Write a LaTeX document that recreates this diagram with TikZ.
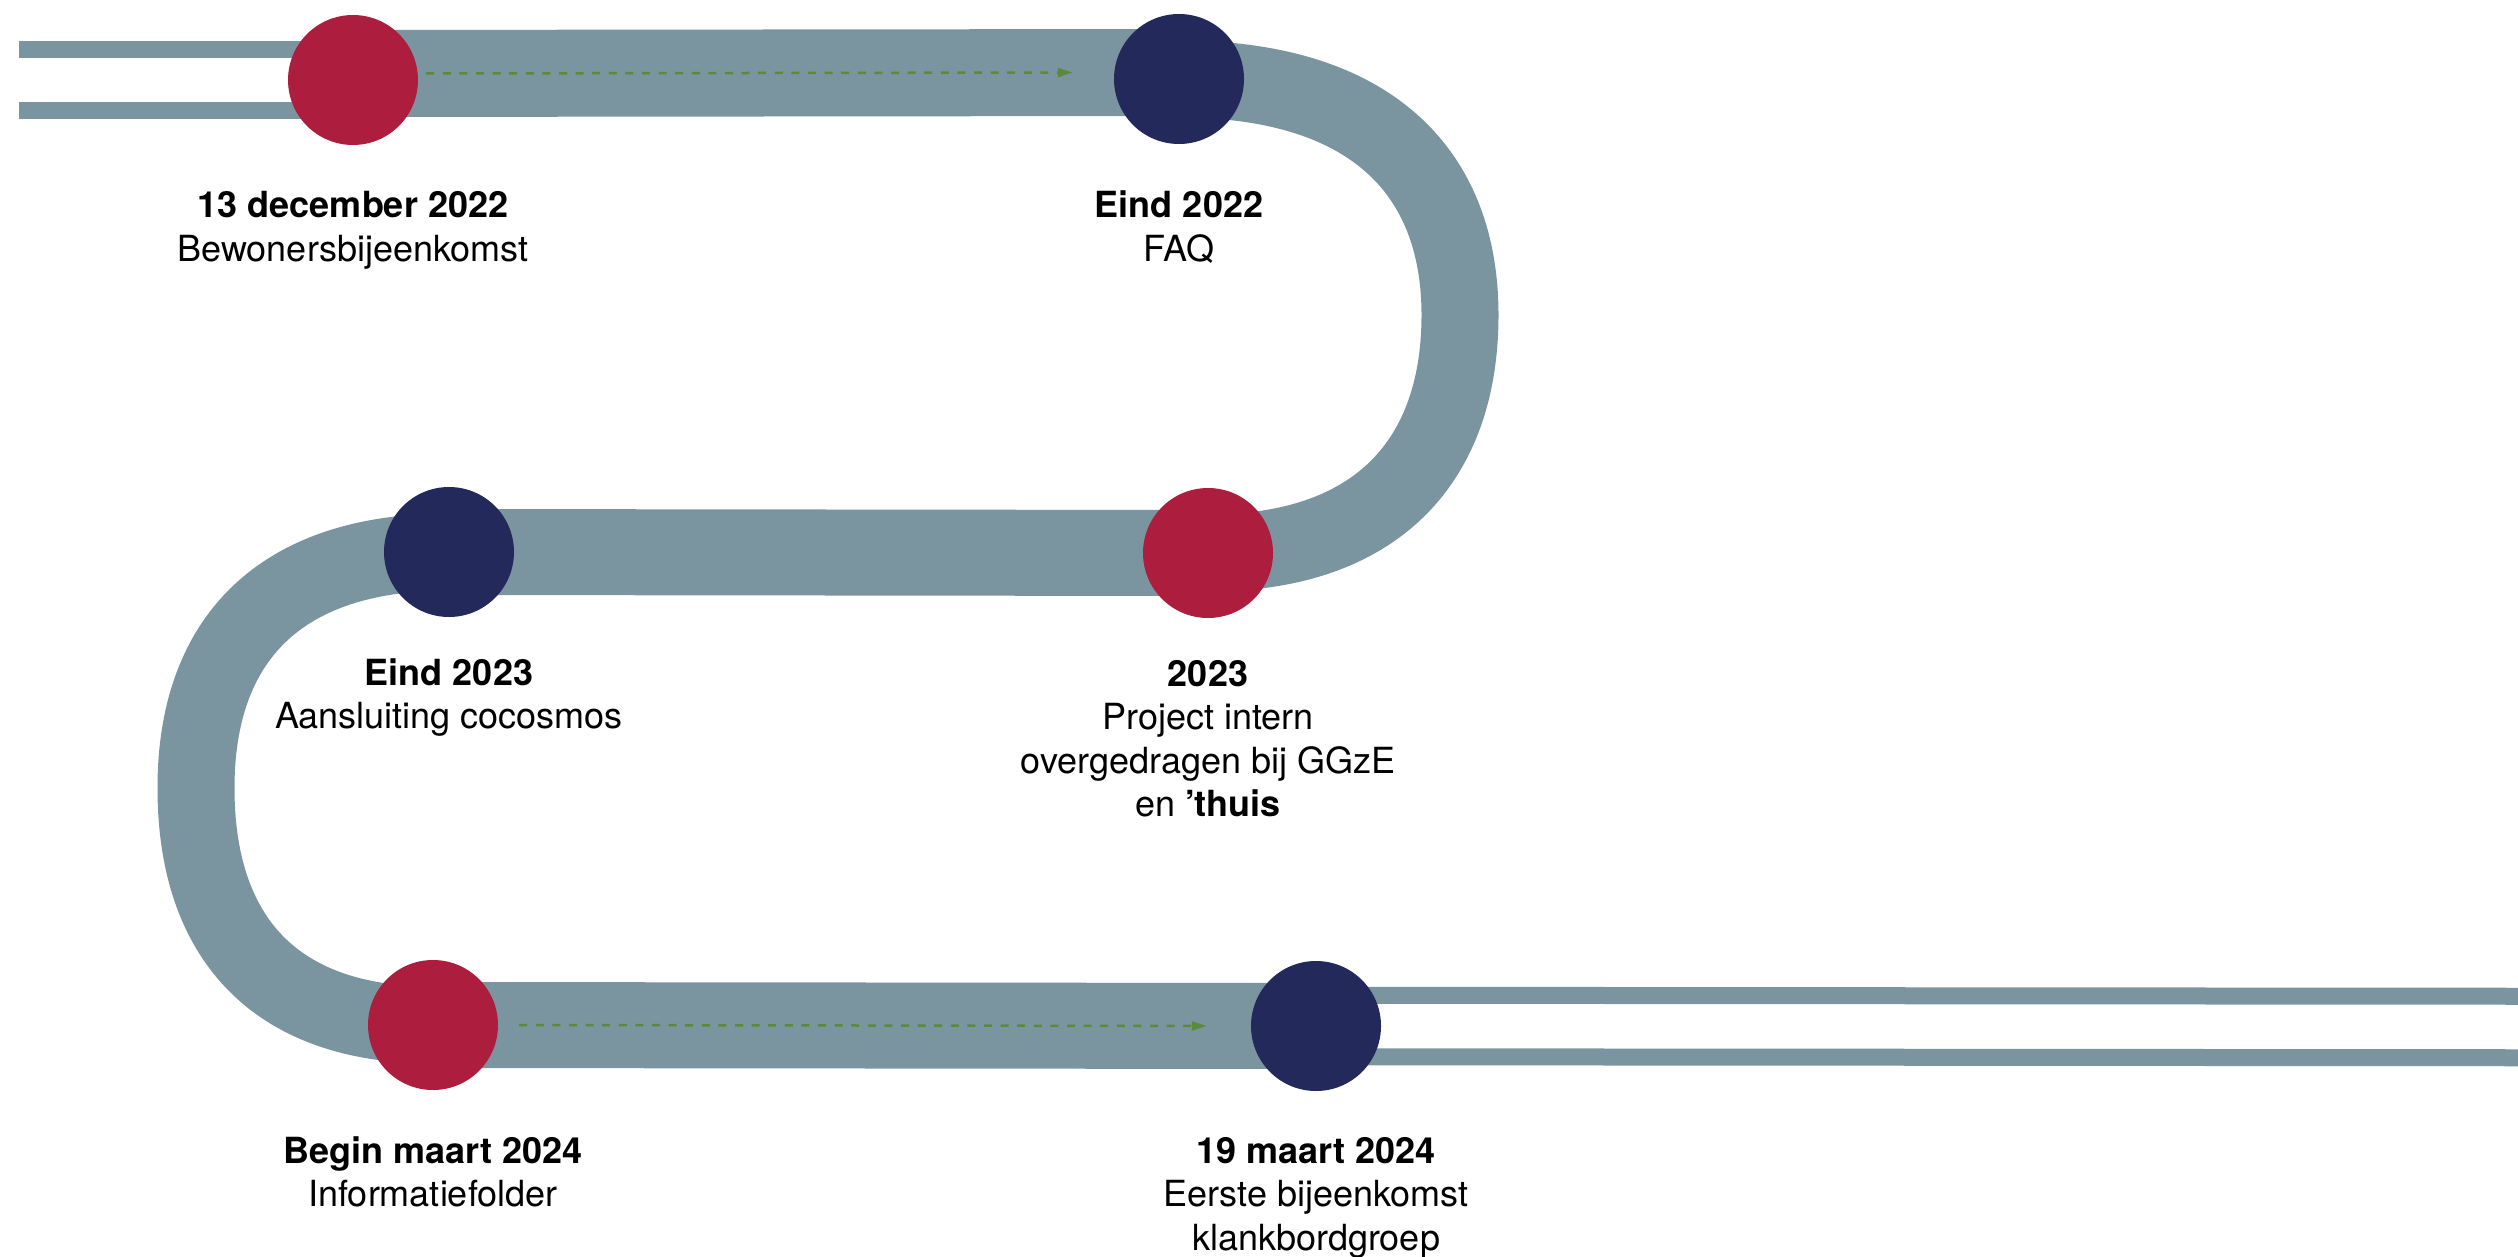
\documentclass[tikz,border=0pt]{standalone}
\usepackage{fontspec}
\setmainfont{TeX Gyre Heros}
\usetikzlibrary{arrows.meta}
\definecolor{band}{HTML}{7A959F}
\definecolor{dotred}{HTML}{AD1E3E}
\definecolor{dotnavy}{HTML}{24295C}
\definecolor{arrowgreen}{HTML}{5B8A3C}
\begin{document}
\begin{tikzpicture}[x=1pt,y=-1pt,
  dot/.style={circle,minimum size=130pt,inner sep=0pt,draw=none},
  reddot/.style={dot,fill=dotred},
  navydot/.style={dot,fill=dotnavy},
  straightband/.style={draw=band,line width=86pt,line cap=butt},
  curveband/.style={draw=band,line width=77pt,line cap=butt},
  thinband/.style={draw=band,line width=17pt,line cap=butt},
  flowarrow/.style={draw=arrowgreen,line width=2.5pt,dash pattern=on 8pt off 8.6pt,-{Triangle[length=15pt,width=9pt]}},
  lbl/.style={anchor=base,align=center,inner sep=0pt,font=\fontsize{36}{43.5}\selectfont}
]
\useasboundingbox (0,0) rectangle (2518,1257);
% node positions
\coordinate (p1) at (353,80);
\coordinate (p2) at (1179,79);
\coordinate (p3) at (449,552);
\coordinate (p4) at (1208,553);
\coordinate (p5) at (433,1025);
\coordinate (p6) at (1316,1026);
\coordinate (tl) at (19,80);
\coordinate (br) at (2518,1027);
\coordinate (rm) at (1460,315);
\coordinate (lm) at (196,788);
% bands
\draw[thinband] ([yshift=30.5pt]tl) -- ([yshift=30.5pt]p1);
\draw[thinband] ([yshift=-30.5pt]tl) -- ([yshift=-30.5pt]p1);
\draw[thinband] ([yshift=30.75pt]p6) -- ([yshift=30.75pt]br);
\draw[thinband] ([yshift=-30.75pt]p6) -- ([yshift=-30.75pt]br);
\draw[straightband,line width=87pt] ([yshift=6.5pt]p1) -- ([yshift=6.5pt]p2);
\draw[straightband] (p3) -- (p4);
\draw[straightband] (p5) -- (p6);
\draw[curveband] (p2) .. controls +(190,0) and +(0,-145) .. (rm)
                      .. controls +(0,145) and +(170,0) .. (p4);
\draw[curveband] (p3) .. controls +(-170,0) and +(0,-148) .. (lm)
                      .. controls +(0,148) and +(-160,0) .. (p5);
% dots
\node[reddot]  (c1) at (p1) {};
\node[navydot] (c2) at (p2) {};
\node[navydot] (c3) at (p3) {};
\node[reddot]  (c4) at (p4) {};
\node[reddot]  (c5) at (p5) {};
\node[navydot] (c6) at (p6) {};
% dashed arrows
\draw[flowarrow] ([xshift=8pt,yshift=6.5pt]c1.east) -- ([xshift=-41pt,yshift=6.5pt]c2.west);
\draw[flowarrow] ([xshift=21pt]c5.east) -- ([xshift=-44pt]c6.west);
% labels (base anchor = baseline of the last line)
\node[lbl] (l1) at ([yshift=-181.5pt]c1.center) {\textbf{13 december 2022}\\Bewonersbijeenkomst};
\node[lbl] (l2) at ([yshift=-182.5pt]c2.center) {\textbf{Eind 2022}\\FAQ};
\node[lbl] (l3) at ([yshift=-176.5pt]c3.center) {\textbf{Eind 2023}\\Aansluiting cocosmos};
\node[lbl] (l4) at ([yshift=-263.5pt]c4.center) {\textbf{2023}\\Project intern\\overgedragen bij GGzE\\en \textbf{’thuis}};
\node[lbl] (l5) at ([yshift=-181.5pt]c5.center) {\textbf{Begin maart 2024}\\Informatiefolder};
\node[lbl] (l6) at ([yshift=-224pt]c6.center) {\textbf{19 maart 2024}\\Eerste bijeenkomst\\klankbordgroep};
\end{tikzpicture}
\end{document}
